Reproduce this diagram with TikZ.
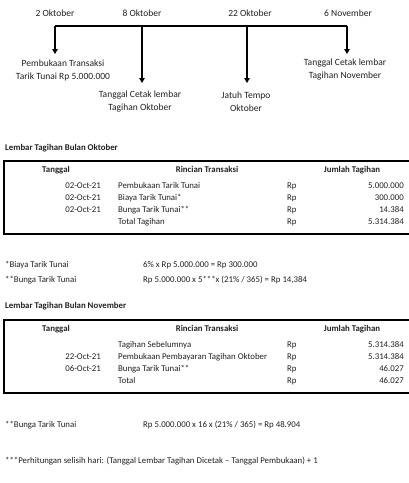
\documentclass[tikz,border=0pt]{standalone}
\usepackage{fontspec}
\setmainfont{Carlito}
\usetikzlibrary{arrows.meta}
\definecolor{txt}{HTML}{222222}
\tikzset{
  t/.style={font=\fontsize{8.8}{10}\selectfont, text=txt, inner sep=0pt, text height=6.2pt, text depth=2pt},
  tb/.style={t, font=\fontsize{8.8}{10}\selectfont\bfseries},
  tlab/.style={t, font=\fontsize{9.5}{11}\selectfont},
  lbl/.style={font=\fontsize{9.5}{13}\selectfont, text=txt, inner sep=0pt, align=center},
  tl/.style={line width=1.6pt, draw=black},
  arr/.style={tl, -{Triangle[length=5pt,width=5.5pt]}},
  box/.style={draw=black, line width=1.3pt}
}
\begin{document}
\begin{tikzpicture}[x=1pt,y=-1pt]
\useasboundingbox (0,0) rectangle (408,483);
\fill[white] (0,0) rectangle (408,483);
% timeline
\node[tlab] (d1) at (55,14) {2 Oktober};
\node[tlab] (d2) at (142,14) {8 Oktober};
\node[tlab] (d3) at (250,14) {22 Oktober};
\node[tlab] (d4) at (348,14) {6 November};
\coordinate (j1) at (55,26);
\coordinate (j2) at (142,26);
\coordinate (j3) at (247,26);
\coordinate (j4) at (347,26);
\coordinate (a1) at (55,54);
\coordinate (a2) at (142,83);
\coordinate (a3) at (247,83);
\coordinate (a4) at (347,54);
\draw[tl] (j1) -- (j4);
\draw[arr] (j1) -- (a1);
\draw[arr] (j2) -- (a2);
\draw[arr] (j3) -- (a3);
\draw[arr] (j4) -- (a4);
\node[lbl] (l1) at (63,70) {Pembukaan Transaksi\\Tarik Tunai Rp 5.000.000};
\node[lbl] (l2) at (140,102) {Tanggal Cetak lembar\\Tagihan Oktober};
\node[lbl] (l3) at (246,102) {Jatuh Tempo\\Oktober};
\node[lbl] (l4) at (345,70) {Tanggal Cetak lembar\\Tagihan November};
% Oktober table
\node[tb, anchor=west] (ttl1) at (5,148) {Lembar Tagihan Bulan Oktober};
\draw[box] (4,161) rectangle (412,234);
\node[tb] (h11) at (56,170) {Tanggal};
\node[tb] (h12) at (207,170) {Rincian Transaksi};
\node[tb] (h13) at (352,170) {Jumlah Tagihan};
\node[t, anchor=east] (a11) at (101,186) {02-Oct-21};
\node[t, anchor=west] (b11) at (118,186) {Pembukaan Tarik Tunai};
\node[t, anchor=west] (c11) at (287,186) {Rp};
\node[t, anchor=east] (e11) at (404,186) {5.000.000};
\node[t, anchor=east] (a12) at (101,198) {02-Oct-21};
\node[t, anchor=west] (b12) at (118,198) {Biaya Tarik Tunai*};
\node[t, anchor=west] (c12) at (287,198) {Rp};
\node[t, anchor=east] (e12) at (404,198) {300.000};
\node[t, anchor=east] (a13) at (101,210) {02-Oct-21};
\node[t, anchor=west] (b13) at (118,210) {Bunga Tarik Tunai**};
\node[t, anchor=west] (c13) at (287,210) {Rp};
\node[t, anchor=east] (e13) at (404,210) {14.384};
\node[t, anchor=west] (b14) at (118,222) {Total Tagihan};
\node[t, anchor=west] (c14) at (287,222) {Rp};
\node[t, anchor=east] (e14) at (404,222) {5.314.384};
% footnotes
\node[t, anchor=west] (f1) at (5,265) {*Biaya Tarik Tunai};
\node[t, anchor=west] (g1) at (143,265) {6\% x Rp 5.000.000 = Rp 300.000};
\node[t, anchor=west] (f2) at (5,280) {**Bunga Tarik Tunai};
\node[t, anchor=west] (g2) at (143,280) {Rp 5.000.000 x 5***x (21\% / 365) = Rp 14,384};
% November table
\node[tb, anchor=west] (ttl2) at (5,306) {Lembar Tagihan Bulan November};
\draw[box] (4,320) rectangle (412,393);
\node[tb] (h21) at (56,329) {Tanggal};
\node[tb] (h22) at (207,329) {Rincian Transaksi};
\node[tb] (h23) at (352,329) {Jumlah Tagihan};
\node[t, anchor=west] (b21) at (118,345) {Tagihan Sebelumnya};
\node[t, anchor=west] (c21) at (287,345) {Rp};
\node[t, anchor=east] (e21) at (404,345) {5.314.384};
\node[t, anchor=east] (a22) at (101,357) {22-Oct-21};
\node[t, anchor=west] (b22) at (118,357) {Pembukaan Pembayaran Tagihan Oktober};
\node[t, anchor=west] (c22) at (287,357) {Rp};
\node[t, anchor=east] (e22) at (404,357) {5.314.384};
\node[t, anchor=east] (a23) at (101,369) {06-Oct-21};
\node[t, anchor=west] (b23) at (118,369) {Bunga Tarik Tunai**};
\node[t, anchor=west] (c23) at (287,369) {Rp};
\node[t, anchor=east] (e23) at (404,369) {46.027};
\node[t, anchor=west] (b24) at (118,381) {Total};
\node[t, anchor=west] (c24) at (287,381) {Rp};
\node[t, anchor=east] (e24) at (404,381) {46.027};
\node[t, anchor=west] (f3) at (5,425) {**Bunga Tarik Tunai};
\node[t, anchor=west] (g3) at (143,425) {Rp 5.000.000 x 16 x (21\% / 365) = Rp 48.904};
\node[t, anchor=west] (f4) at (5,461) {***Perhitungan selisih hari: (Tanggal Lembar Tagihan Dicetak – Tanggal Pembukaan) + 1};
\end{tikzpicture}
\end{document}
